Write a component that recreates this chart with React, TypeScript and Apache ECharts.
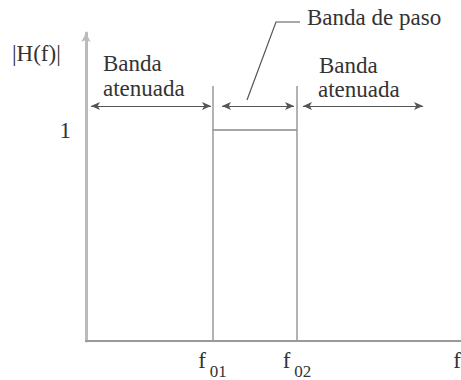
import React, { useEffect, useRef } from "react";
import * as echarts from "echarts";

// Schematic values (frequency axis in arbitrary units, magnitude normalised)
const xMax = 10;
const yMax = 1.46;
const f01 = 3.373;
const f02 = 5.627;
const passGain = 1;
const edgeTop = 1.2085;
const arrowLevel = 1.114;
const tickValues = [f01, f02, xMax];
const tickNames = ["01", "02", ""];
const yTickValues = [1];
// arrow spans [from, to] in frequency units
const leftBand = [0.133, 3.333];
const passBand = [3.627, 5.547];
const rightBand = [5.787, 8.987];

const FONT = "Liberation Serif";
const TEXT = "#333";

export default function App() {
  const ref = useRef<HTMLDivElement>(null);
  useEffect(() => {
    if (!ref.current) return;
    const chart = echarts.init(ref.current, undefined, { renderer: "svg" });
    const arrowLine = (a: number[]) => [
      { coord: [a[0], arrowLevel] },
      { coord: [a[1], arrowLevel] },
    ];
    const txt = (text: string, left: number, top: number) => ({
      type: "text",
      left,
      top,
      style: { text, fontFamily: FONT, fontSize: 23, fill: TEXT },
    });
    chart.setOption({
      animation: false,
      backgroundColor: "#fff",
      grid: { left: 86, right: 0, top: 33, bottom: 39, containLabel: false, outerBoundsMode: "none" },
      xAxis: {
        type: "value",
        min: 0,
        max: xMax,
        splitLine: { show: false },
        axisTick: { show: false },
        axisLine: { lineStyle: { color: "#999", width: 2 } },
        axisLabel: {
          customValues: tickValues,
          showMaxLabel: true,
          alignMaxLabel: "right",
          margin: 8,
          formatter: (v: number) => {
            const i = tickValues.indexOf(v);
            const n = i >= 0 ? tickNames[i] : "";
            return n ? `{f|f}{s|${n}}` : "{f|f}";
          },
          rich: {
            f: { fontFamily: FONT, fontSize: 23, color: TEXT, lineHeight: 34, verticalAlign: "top" },
            s: { fontFamily: FONT, fontSize: 17, color: TEXT, lineHeight: 34, padding: [14, 0, 0, 4], verticalAlign: "top" },
          },
        },
      },
      yAxis: {
        type: "value",
        min: 0,
        max: yMax,
        splitLine: { show: false },
        axisTick: { show: false },
        axisLine: {
          show: true,
          symbol: ["none", "arrow"],
          symbolSize: [7, 9],
          lineStyle: { color: "#bbb", width: 3 },
        },
        axisLabel: {
          customValues: yTickValues,
          margin: 15,
          fontFamily: FONT,
          fontSize: 23,
          color: TEXT,
          formatter: (v: number) => String(v),
        },
      },
      series: [
        {
          type: "line",
          symbol: "none",
          lineStyle: { color: "#888", width: 1.5 },
          data: [
            [f01, passGain],
            [f02, passGain],
          ],
          markLine: {
            silent: true,
            symbol: ["none", "none"],
            label: { show: false },
            lineStyle: { color: "#999", width: 1.5, type: "solid" },
            data: [
              [{ coord: [f01, 0] }, { coord: [f01, edgeTop] }],
              [{ coord: [f02, 0] }, { coord: [f02, edgeTop] }],
            ],
          },
        },
        {
          type: "line",
          symbol: "none",
          data: [],
          markLine: {
            silent: true,
            symbol: ["arrow", "arrow"],
            symbolSize: [6, 9],
            label: { show: false },
            lineStyle: { color: "#555", width: 1.2, type: "solid" },
            itemStyle: { color: "#333" },
            data: [arrowLine(leftBand), arrowLine(passBand), arrowLine(rightBand)],
          },
        },
      ],
      graphic: [
        txt("|H(f)|", 12, 42),
        txt("Banda", 103, 52),
        txt("atenuada", 103, 77),
        txt("Banda", 319, 54),
        txt("atenuada", 318, 78),
        txt("Banda de paso", 307, 6),
        {
          type: "polyline",
          shape: { points: [[247, 100], [276, 22], [300, 22]] },
          style: { stroke: "#555", lineWidth: 1.2, fill: "none" },
        },
      ],
    });
    return () => chart.dispose();
  }, []);
  return (
    <div
      ref={ref}
      style={{ position: "fixed", left: 0, top: 0, width: 461, height: 380, background: "#fff" }}
    />
  );
}
